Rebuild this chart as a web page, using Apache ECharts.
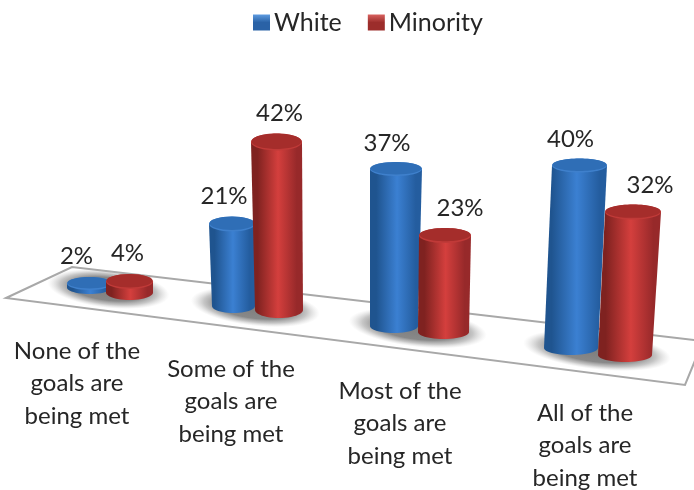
<!DOCTYPE html>
<html><head><meta charset="utf-8">
<style>html,body{margin:0;padding:0;background:#fff}#c{width:694px;height:490px}</style>
<script src="https://cdn.jsdelivr.net/npm/echarts@6/dist/echarts.min.js"></script>
</head><body><div id="c"></div>
<script>
const categories = ['None of the\ngoals are\nbeing met','Some of the\ngoals are\nbeing met','Most of the\ngoals are\nbeing met','All of the\ngoals are\nbeing met'];
const white = [2, 21, 37, 40];
const minority = [4, 42, 23, 32];

// Perspective layout, one entry per category: projected geometry of the painted scene.
const FONT = 'Lato, "Open Sans", sans-serif';
const sceneWhite = [
  {bx:89.5,by:287.5,brx:22.5,bry:6.5,tdx:0,trx:22.5,try:6.5,unit:2,lx:-13,ly:-27},
  {bx:233.5,by:306,brx:21.5,bry:7,tdx:-1.5,trx:23,try:7.5,unit:3.9,lx:-8,ly:-28},
  {bx:394,by:326,brx:24,bry:7,tdx:2,trx:26,try:7,unit:4.24,lx:-9,ly:-26},
  {bx:571,by:348,brx:27,bry:7,tdx:8.5,trx:27.5,try:7,unit:4.56,lx:-9,ly:-26}
];
const sceneMinority = [
  {bx:129.5,by:292.5,brx:23.5,bry:7.5,tdx:0,trx:23.5,try:7.5,unit:2.75,lx:-2,ly:-28},
  {bx:279,by:310,brx:24,bry:8,tdx:-2.5,trx:25.5,try:8.5,unit:4,lx:3,ly:-29},
  {bx:443.5,by:332,brx:25.5,bry:7,tdx:1.5,trx:26,try:7.5,unit:4.2,lx:15,ly:-27},
  {bx:625,by:355,brx:27,bry:7,tdx:8,trx:28,try:7.5,unit:4.47,lx:17,ly:-27}
];
const floorPts = [[6,298],[72,267],[703,341],[685,385]];
const labelPos = [[77,351],[231,369],[400,391],[585,413]];
const LINE_H = 32.5;

function grad(x1,x2,stops){
  return {type:'linear',global:true,x:x1,y:0,x2:x2,y2:0,colorStops:stops};
}
const blue = {edge:'#1f548f',mid:'#3b80d2',right:'#245d9f',top:'#2f6eb6',rim:'#3f80cc'};
const red  = {edge:'#7f2220',mid:'#d43f3d',right:'#97292a',top:'#a52d2b',rim:'#c03a38'};

function cylinder(scene, pal){
  return function(params, api){
    const i = params.dataIndex, s = scene[i];
    const v = api.value(1);
    const h = api.size([0,v])[1] * s.unit;
    const tx = s.bx + s.tdx, ty = s.by - h;
    const lo = Math.min(s.bx-s.brx, tx-s.trx), hi = Math.max(s.bx+s.brx, tx+s.trx);
    const pts = [[tx-s.trx,ty]];
    for(let k=0;k<=24;k++){
      const a = Math.PI - Math.PI*k/24;
      pts.push([s.bx+s.brx*Math.cos(a), s.by+s.bry*Math.sin(a)]);
    }
    pts.push([tx+s.trx,ty]);
    return {type:'group',children:[
      {type:'polygon',shape:{points:pts},style:{fill:grad(lo,hi,[
        {offset:0,color:pal.edge},{offset:.12,color:pal.edge},{offset:.52,color:pal.mid},{offset:.88,color:pal.right},{offset:1,color:pal.right}])}},
      {type:'ellipse',shape:{cx:tx,cy:ty,rx:s.trx,ry:s.try},style:{fill:pal.rim}},
      {type:'ellipse',shape:{cx:tx,cy:ty-.8,rx:s.trx-.5,ry:s.try-.8},style:{fill:pal.top}},
      {type:'text',style:{x:tx+s.lx,y:ty+s.ly,text:v+'%',fill:'#262626',font:'24px '+FONT,align:'center',verticalAlign:'middle'}}
    ]};
  };
}
const SHADOW_R = 19;
function baseShadow(params, api){
  const i = params.dataIndex, w = sceneWhite[i], m = sceneMinority[i];
  const cx = (w.bx+m.bx)/2 - 1, cy = (w.by+m.by)/2 - 1;
  const rx = (m.bx-w.bx)/2 + m.brx*1.75;
  return {type:'circle',shape:{cx:0,cy:0,r:SHADOW_R},x:cx,y:cy,scaleX:rx/SHADOW_R,scaleY:1,rotation:-0.11,
    style:{fill:{type:'radial',x:.5,y:.5,r:.5,colorStops:[
      {offset:0,color:'rgba(125,125,125,1)'},{offset:.6,color:'rgba(130,130,130,.95)'},{offset:.8,color:'rgba(160,160,160,.6)'},{offset:1,color:'rgba(200,200,200,0)'}]}}};
}
const idx = categories.map((c,i)=>i);
const legendGrad = (top,bot)=>({type:'linear',x:0,y:0,x2:0,y2:1,colorStops:[{offset:0,color:top},{offset:.5,color:bot},{offset:1,color:bot}]});

const chart = echarts.init(document.getElementById('c'));
chart.setOption({
  animation:false,
  backgroundColor:'#fff',
  legend:{data:['White','Minority'],left:248,top:5,itemWidth:17,itemHeight:16,itemGap:26,icon:'rect',
    textStyle:{fontFamily:FONT,fontSize:25,color:'#262626',padding:[0,0,0,-1]}},
  grid:{left:0,width:694,top:300,height:100},
  xAxis:{type:'category',data:categories,show:false},
  yAxis:{type:'value',min:0,max:100,show:false},
  series:[
    {type:'custom',name:'floor',data:[0],silent:true,z:1,renderItem:()=>({type:'polygon',shape:{points:floorPts},style:{fill:'#fff',stroke:'#a8a8a8',lineWidth:2}})},
    {type:'custom',name:'shadow',data:idx,silent:true,z:2,renderItem:baseShadow},
    {type:'custom',name:'White',z:3,silent:true,itemStyle:{color:legendGrad('#5d9be0','#2a62a6')},encode:{x:0,y:1},
      data:white.map((v,i)=>[i,v]),renderItem:cylinder(sceneWhite,blue)},
    {type:'custom',name:'Minority',z:4,silent:true,itemStyle:{color:legendGrad('#d9625f','#9c2d2b')},encode:{x:0,y:1},
      data:minority.map((v,i)=>[i,v]),renderItem:cylinder(sceneMinority,red)},
    {type:'custom',name:'labels',z:5,silent:true,data:idx,renderItem:(p)=>{
      const lines = categories[p.dataIndex].split('\n'), pos = labelPos[p.dataIndex];
      return {type:'group',children:lines.map((t,k)=>({type:'text',style:{x:pos[0],y:pos[1]+k*LINE_H,text:t,fill:'#262626',font:'24px '+FONT,align:'center',verticalAlign:'middle'}}))};
    }}
  ]
});
</script></body></html>
